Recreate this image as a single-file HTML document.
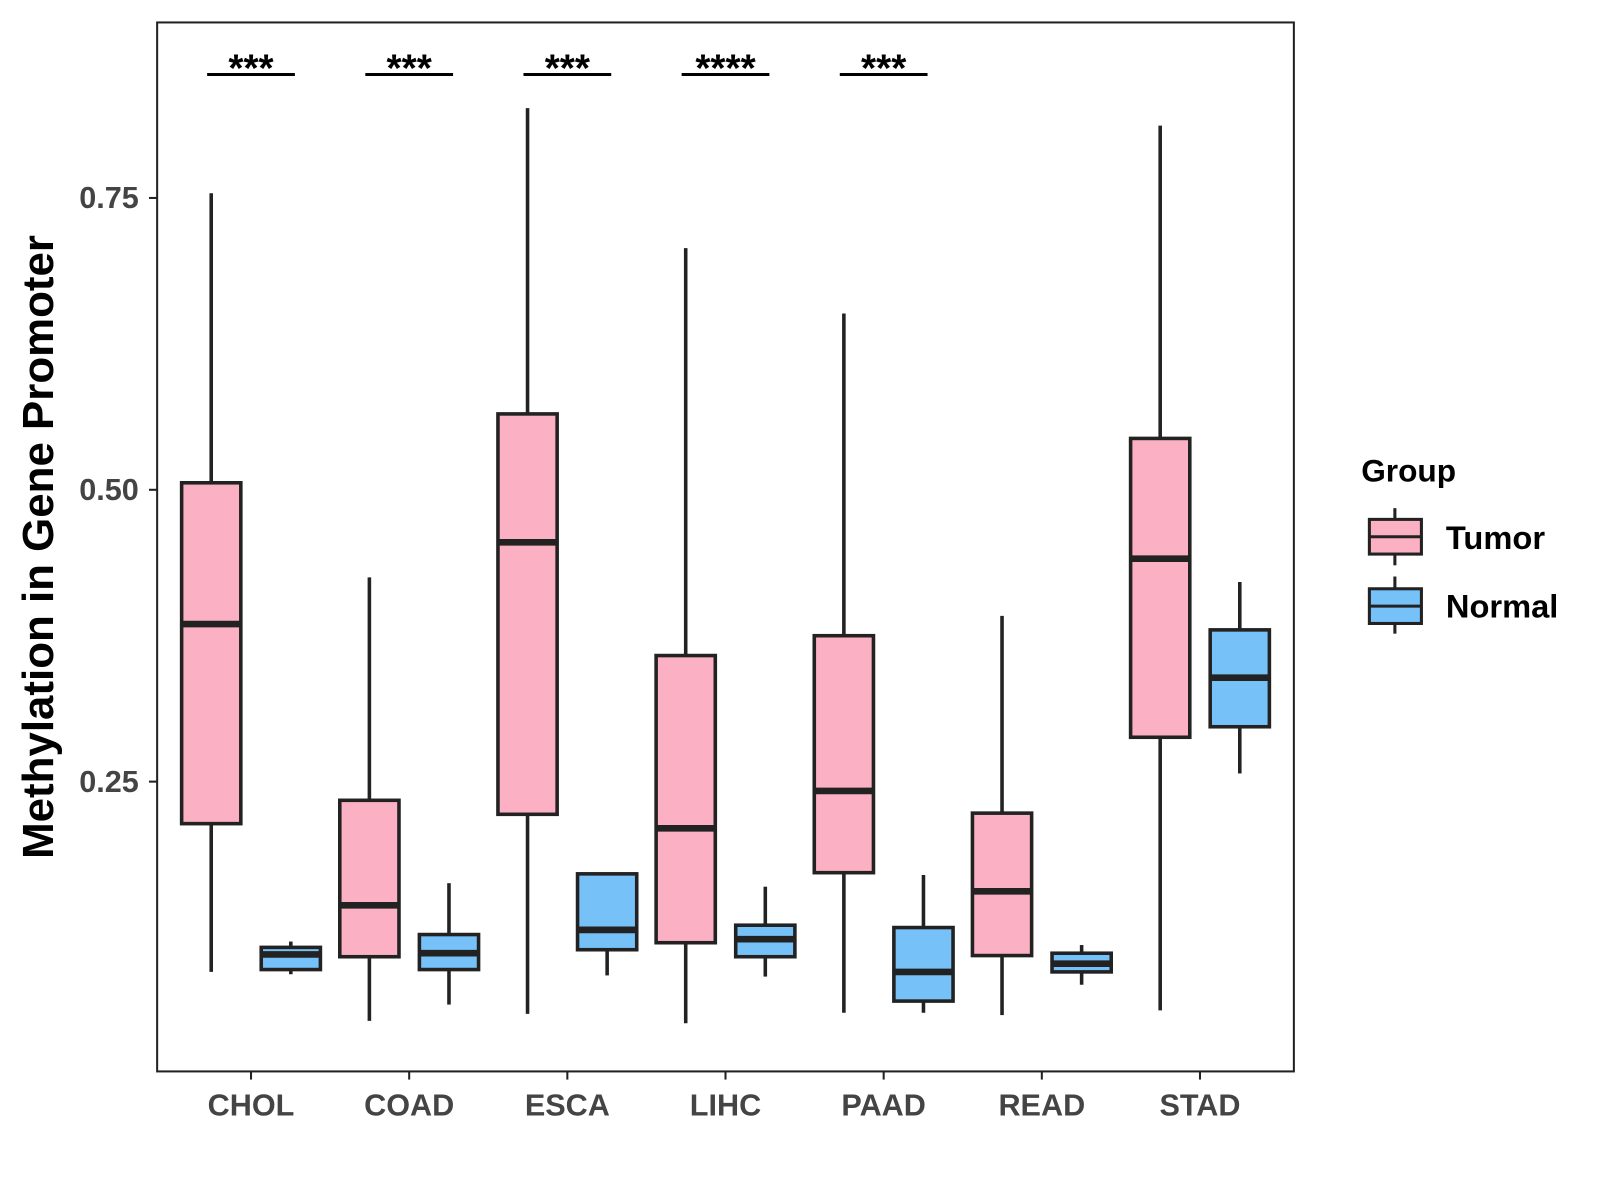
<!DOCTYPE html>
<html><head><meta charset="utf-8"><style>
html,body{margin:0;padding:0;background:#fff;width:1600px;height:1200px;overflow:hidden}
text{font-family:"Liberation Sans",Arial,sans-serif;font-weight:bold}
</style></head><body>
<svg width="1600" height="1200" viewBox="0 0 1600 1200" xmlns="http://www.w3.org/2000/svg">
<g id="chart" transform="scale(1.0204)">
<rect x="154" y="22" width="1114" height="1028" fill="#fff" stroke="#222" stroke-width="2"/>
<g id="marks"></g>
<text x="0" y="0" transform="translate(52,536) rotate(-90)" text-anchor="middle" font-size="43" fill="#000">Methylation in Gene Promoter</text>
<g>
<text x="1334" y="472" font-size="31" fill="#000">Group</text>
<g>
<line x1="1367" y1="498" x2="1367" y2="554" stroke="#222" stroke-width="3"/>
<rect x="1342" y="509" width="51" height="34" fill="#FBB1C3" stroke="#222" stroke-width="3"/>
<line x1="1342" y1="526" x2="1393" y2="526" stroke="#222" stroke-width="3"/>
<text x="1417" y="538" font-size="32" fill="#000">Tumor</text></g>
<g>
<line x1="1367" y1="565" x2="1367" y2="621" stroke="#222" stroke-width="3"/>
<rect x="1342" y="577" width="51" height="34" fill="#76C1F8" stroke="#222" stroke-width="3"/>
<line x1="1342" y1="594" x2="1393" y2="594" stroke="#222" stroke-width="3"/>
<text x="1417" y="605" font-size="32" fill="#000">Normal</text></g>
</g>
</g>
</svg>
<script>
const categories=["CHOL","COAD","ESCA","LIHC","PAAD","READ","STAD"];
const tumorMin=[0.087,0.045,0.051,0.043,0.052,0.050,0.054];
const tumorQ1=[0.214,0.100,0.222,0.112,0.172,0.101,0.288];
const tumorMed=[0.385,0.144,0.455,0.210,0.242,0.156,0.441];
const tumorQ3=[0.506,0.234,0.565,0.358,0.375,0.223,0.544];
const tumorMax=[0.754,0.425,0.827,0.707,0.651,0.392,0.812];
const normalMin=[0.085,0.059,0.084,0.083,0.052,0.076,0.257];
const normalQ1=[0.089,0.089,0.106,0.100,0.062,0.087,0.297];
const normalMed=[0.102,0.103,0.123,0.115,0.087,0.094,0.339];
const normalQ3=[0.108,0.119,0.171,0.127,0.125,0.103,0.380];
const normalMax=[0.113,0.163,0.171,0.160,0.170,0.110,0.421];
const signif=["***","***","***","****","***","",""];
const yTicks=[0.25,0.5,0.75];
const yTickLabels=["0.25","0.50","0.75"];

const NS="http://www.w3.org/2000/svg";
const svg=document.getElementById("chart");
const g=document.getElementById("marks");
function yScale(v){return 480-(v-0.5)*1144;}
function xScale(i){return 246+i*155;}
function mk(tag,attrs,parent){const e=document.createElementNS(NS,tag);for(const k in attrs)e.setAttribute(k,attrs[k]);(parent||g).appendChild(e);return e;}

yTicks.forEach((t,i)=>{
  const y=yScale(t);
  const l=mk("line",{x1:146,x2:154,y1:y,y2:y,stroke:"#222","stroke-width":2},svg);
  
  
  const tx=mk("text",{x:136,y:y+10,"text-anchor":"end","font-size":30,fill:"#444"},svg);
  tx.textContent=yTickLabels[i];
  
  
});
categories.forEach((c,i)=>{
  const x=xScale(i);
  const l=mk("line",{x1:x,x2:x,y1:1050,y2:1058,stroke:"#222","stroke-width":2},svg);
  
  
  const tx=mk("text",{x:x,y:1093,"text-anchor":"middle","font-size":30,fill:"#444"},svg);
  tx.textContent=c;
  
  
});
function box(cx,mn,q1,md,q3,mx,fill,name){
  const grp=mk("g",{});
  
  
  mk("line",{x1:cx,x2:cx,y1:yScale(mx),y2:yScale(q3),stroke:"#222","stroke-width":3.5},grp);
  mk("line",{x1:cx,x2:cx,y1:yScale(q1),y2:yScale(mn),stroke:"#222","stroke-width":3.5},grp);
  mk("rect",{x:cx-29,y:yScale(q3),width:58,height:yScale(q1)-yScale(q3),fill:fill,stroke:"#222","stroke-width":3.5},grp);
  mk("line",{x1:cx-29,x2:cx+29,y1:yScale(md),y2:yScale(md),stroke:"#222","stroke-width":6.5},grp);
}
categories.forEach((c,i)=>{
  const x=xScale(i);
  box(x-39,tumorMin[i],tumorQ1[i],tumorMed[i],tumorQ3[i],tumorMax[i],"#FBB1C3","box-tumor-"+c.toLowerCase());
  box(x+39,normalMin[i],normalQ1[i],normalMed[i],normalQ3[i],normalMax[i],"#76C1F8","box-normal-"+c.toLowerCase());
  if(signif[i]){
    const l=mk("line",{x1:x-43,x2:x+43,y1:73,y2:73,stroke:"#000","stroke-width":3});
    
    
    const t=mk("text",{x:x,y:80,"text-anchor":"middle","font-size":38,fill:"#000"});
    t.textContent=signif[i];
    
    
  }
});
</script>
</body></html>
